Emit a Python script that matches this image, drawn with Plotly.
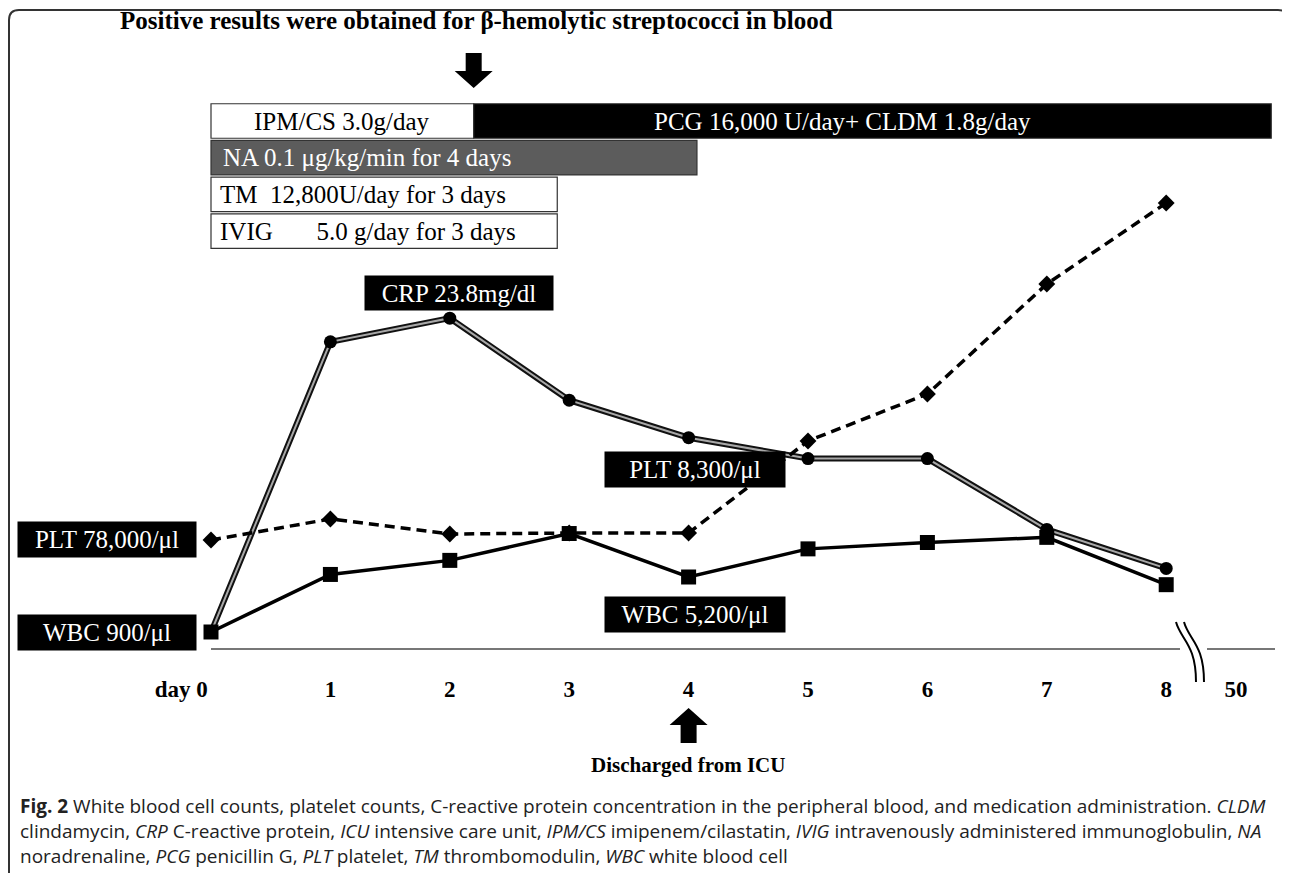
import plotly.graph_objects as go

# ---------------- data ----------------
days = [0, 1, 2, 3, 4, 5, 6, 7, 8]
crp_mg_dl = [1.2, 22.1, 23.8, 17.9, 15.2, 13.7, 13.7, 8.6, 5.8]
wbc_per_ul = [900, 5400, 6500, 8600, 5200, 7400, 7900, 8300, 4600]
# platelet trend, schematic relative level (arbitrary units)
plt_level = [109, 130, 115, 116, 116, 208, 255, 365, 446]

tick_vals = [-0.25, 1, 2, 3, 4, 5, 6, 7, 8, 8.585]
tick_text = ["day 0", "1", "2", "3", "4", "5", "6", "7", "8", "50"]

med_labels = ["IPM/CS 3.0g/day", "PCG 16,000 U/day+ CLDM 1.8g/day",
              "NA 0.1 \u03bcg/kg/min for 4 days", "TM  12,800U/day for 3 days",
              "IVIG       5.0 g/day for 3 days"]
med_start = [0, 2.2, 0, 0, 0]
med_days = [2.2, 6.68, 4.07, 2.9, 2.9]
med_row = [0, 0, 1, 2, 3]
med_fill = ["white", "black", "#5c5c5c", "white", "white"]
med_text = ["black", "white", "white", "black", "black"]

switch_day = 2.2      # positive blood culture -> antibiotic switch
discharge_day = 4     # discharged from ICU

SERIF = "Liberation Serif, Times New Roman, serif"
SANS = "Open Sans, Noto Sans, sans-serif"

OFF = 8                 # page body margin
W, H = 1290 - OFF, 873 - OFF
BASE = 649 - OFF        # axis row in figure pixels
DAY_PX = 119.4
X0 = 211 - OFF

fig = go.Figure()

# medication bars
for i in range(len(med_labels)):
    fig.add_trace(go.Bar(
        orientation="h", y=[med_row[i]], x=[med_days[i]], base=[med_start[i]],
        xaxis="x", yaxis="y4", width=0.94,
        marker=dict(color=med_fill[i], line=dict(color="#333", width=1.2)),
        showlegend=False, hoverinfo="skip"))

# CRP double line
fig.add_trace(go.Scatter(x=days, y=crp_mg_dl, mode="lines", yaxis="y",
                         line=dict(color="#111", width=6), showlegend=False, hoverinfo="skip"))
fig.add_trace(go.Scatter(x=days, y=crp_mg_dl, mode="lines+markers", yaxis="y",
                         line=dict(color="#a8a8a8", width=2),
                         marker=dict(symbol="circle", size=13, color="black"),
                         showlegend=False))
# PLT dashed
fig.add_trace(go.Scatter(x=days, y=plt_level, mode="lines+markers", yaxis="y3",
                         line=dict(color="black", width=3.5, dash="10px,6px"),
                         marker=dict(symbol="diamond", size=13, color="black"),
                         showlegend=False))
# WBC solid
fig.add_trace(go.Scatter(x=days, y=wbc_per_ul, mode="lines+markers", yaxis="y2",
                         line=dict(color="black", width=3.5),
                         marker=dict(symbol="square", size=15, color="black"),
                         showlegend=False))


def px(x, y):
    # reference-image pixel -> shape pixel path coordinate
    return f"{x - OFF},{-(y - OFF)}"


shapes = []


def pshape(path, fill=None, color="black", width=0, xref="paper", xanchor=0):
    d = dict(type="path", xref=xref, yref="paper", xsizemode="pixel", ysizemode="pixel",
             xanchor=xanchor, yanchor=1, path=path, layer="above",
             line=dict(color=color, width=width))
    if fill:
        d["fillcolor"] = fill
    shapes.append(d)


# outer rounded frame
pshape(f"M {px(9,873)} L {px(9,20)} Q {px(9,10)} {px(19,10)} L {px(1278,10)} Q {px(1288,10)} {px(1288,20)} L {px(1288,60)}",
       color="#333", width=2)

# axis line with break
pshape(f"M {px(211,649)} L {px(1180,649)}", color="#777", width=2)
pshape(f"M {px(1207,649)} L {px(1275,649)}", color="#777", width=2)
for off in (0, 8):
    pshape(f"M {px(1176+off,622)} C {px(1181+off,640)} {px(1196+off,644)} {px(1196+off,682)}",
           color="black", width=2)


def arrow_path(top, base, tip):
    sw, hw = 8, 19
    t, b, p = -(top - OFF), -(base - OFF), -(tip - OFF)
    return (f"M {-sw},{t} L {sw},{t} L {sw},{b} L {hw},{b} L 0,{p} "
            f"L {-hw},{b} L {-sw},{b} Z")


pshape(arrow_path(53, 71, 88), fill="black", xref="x", xanchor=switch_day)
pshape(arrow_path(743, 725, 708), fill="black", xref="x", xanchor=discharge_day)

ann = []


def pp(xp, yp):
    return (xp - OFF) / W, (649 - yp) / BASE


def label(text, x0, x1, y0, y1):
    xc, yc = pp((x0 + x1) / 2, (y0 + y1) / 2)
    ann.append(dict(text=text, x=xc, y=yc, xref="paper", yref="paper", showarrow=False,
                    xanchor="center", yanchor="middle", bgcolor="black",
                    width=x1 - x0 - 2, height=y1 - y0 - 2, borderpad=1,
                    font=dict(family=SERIF, size=25, color="white")))


label("CRP 23.8mg/dl", 365, 553, 276, 310)
label("PLT 78,000/\u03bcl", 18, 196, 522, 557)
label("WBC 900/\u03bcl", 18, 196, 615, 650)
label("PLT 8,300/\u03bcl", 605, 785, 452, 487)
label("WBC 5,200/\u03bcl", 605, 785, 597, 632)

# medication text placement (fraction of bar length where text is anchored)
text_frac = [0.5, 0.462, 0.02, 0.02, 0.02]
text_anchor = ["center", "center", "left", "left", "left"]
for i in range(len(med_labels)):
    xpos = med_start[i] + med_days[i] * text_frac[i]
    ann.append(dict(text=med_labels[i], x=xpos, y=med_row[i], xref="x", yref="y4",
                    showarrow=False, xanchor=text_anchor[i], yanchor="middle",
                    font=dict(family=SERIF, size=25, color=med_text[i])))

x, y = pp(118, 20)
ann.append(dict(text="Positive results were obtained for \u03b2-hemolytic streptococci in blood",
                x=x, y=y, xref="paper", yref="paper", showarrow=False, xanchor="left",
                yanchor="middle", font=dict(family=SERIF, size=25, color="black", weight="bold")))
x, y = pp(688, 765)
ann.append(dict(text="Discharged from ICU", x=x, y=y, xref="paper", yref="paper",
                showarrow=False, xanchor="center", yanchor="middle",
                font=dict(family=SERIF, size=21, color="black", weight="bold")))

cap = [
    "<b>Fig. 2</b> White blood cell counts, platelet counts, C-reactive protein concentration in the peripheral blood, and medication administration. <i>CLDM</i>",
    "clindamycin, <i>CRP</i> C-reactive protein, <i>ICU</i> intensive care unit, <i>IPM/CS</i> imipenem/cilastatin, <i>IVIG</i> intravenously administered immunoglobulin, <i>NA</i>",
    "noradrenaline, <i>PCG</i> penicillin G, <i>PLT</i> platelet, <i>TM</i> thrombomodulin, <i>WBC</i> white blood cell",
]
for i, line in enumerate(cap):
    x, y = pp(18, 806 + 25 * i)
    ann.append(dict(text=line, x=x, y=y, xref="paper", yref="paper", showarrow=False,
                    xanchor="left", yanchor="middle", align="left",
                    font=dict(family=SANS, size=19, color="#222")))

x_lo = -X0 / DAY_PX
x_hi = (W - X0) / DAY_PX

fig.update_layout(
    width=W, height=H, margin=dict(l=0, r=0, t=0, b=H - BASE),
    paper_bgcolor="white", plot_bgcolor="white", barmode="overlay",
    xaxis=dict(range=[x_lo, x_hi], showgrid=False, zeroline=False, showline=False,
               tickmode="array", tickvals=tick_vals, ticktext=tick_text,
               ticks="outside", ticklen=19, tickcolor="rgba(0,0,0,0)",
               tickfont=dict(family=SERIF, size=23, color="black", weight="bold"),
               fixedrange=True),
    yaxis=dict(range=[0, BASE / 13.9], visible=False, fixedrange=True),
    yaxis2=dict(range=[-(BASE - 635.5) * 78.2, 635.5 * 78.2], overlaying="y", visible=False),
    yaxis3=dict(range=[0, BASE], overlaying="y", visible=False),
    yaxis4=dict(range=[(BASE - 113) / 36.7, -113 / 36.7], overlaying="y", visible=False),
    shapes=shapes, annotations=ann,
)

fig.write_html("out.html")
